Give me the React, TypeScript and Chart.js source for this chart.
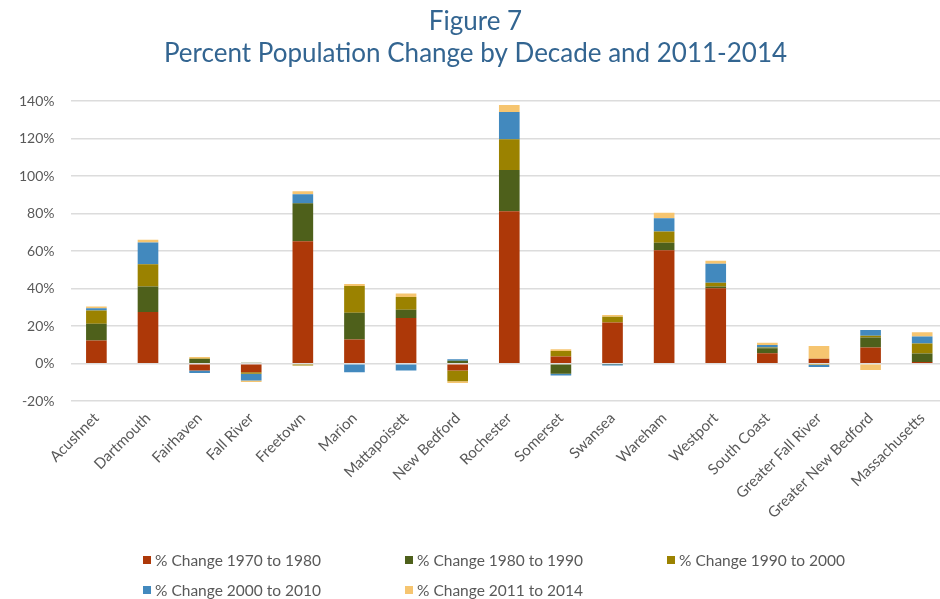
import React, { useEffect, useRef } from "react";
import { Chart, registerables } from "chart.js";

Chart.register(...registerables);

const categories = [
  "Acushnet", "Dartmouth", "Fairhaven", "Fall River", "Freetown", "Marion",
  "Mattapoisett", "New Bedford", "Rochester", "Somerset", "Swansea", "Wareham",
  "Westport", "South Coast", "Greater Fall River", "Greater New Bedford", "Massachusetts",
];

const change1970to1980 = [12.3, 27.5, -3.6, -4.5, 65.2, 12.9, 24.3, -3.6, 81.3, 3.8, 22.0, 60.5, 40.2, 5.5, 2.6, 8.6, 0.9];
const change1980to1990 = [9.0, 13.6, 2.5, 0.5, 20.3, 14.2, 4.5, 1.6, 21.9, -5.4, -0.3, 3.9, 0.9, 2.7, -0.4, 5.4, 4.5];
const change1990to2000 = [7.1, 11.9, 0.2, -0.8, -0.9, 14.3, 6.8, -5.7, 16.4, 3.0, 3.0, 6.1, 2.1, 0.4, -0.3, 0.9, 5.4];
const change2000to2010 = [1.2, 11.6, -1.4, -3.6, 4.8, -4.5, -3.6, 0.8, 14.6, -0.9, -0.7, 7.0, 10.0, 1.4, -1.1, 3.0, 3.7];
const change2011to2014 = [0.9, 1.5, 0.9, -0.9, 1.6, 1.1, 1.8, -1.0, 3.7, 0.9, 0.9, 2.9, 1.6, 1.1, 6.8, -3.4, 2.3];

const seriesLabels = [
  "% Change 1970 to 1980",
  "% Change 1980 to 1990",
  "% Change 1990 to 2000",
  "% Change 2000 to 2010",
  "% Change 2011 to 2014",
];
const seriesColors = ["#AD3808", "#4E601B", "#9B8200", "#4289BE", "#F6C570"];
const seriesValues = [change1970to1980, change1980to1990, change1990to2000, change2000to2010, change2011to2014];

const titleLines = ["Figure 7", "Percent Population Change by Decade and 2011-2014"];

const FONT = "Lato, 'Open Sans', sans-serif";

export default function App() {
  const canvasRef = useRef<HTMLCanvasElement | null>(null);

  useEffect(() => {
    const canvas = canvasRef.current;
    if (!canvas) return;
    const chart = new Chart(canvas, {
      type: "bar",
      data: {
        labels: categories,
        datasets: seriesValues.map((vals, i) => ({
          label: seriesLabels[i],
          data: vals,
          backgroundColor: seriesColors[i],
          borderWidth: 0,
          barPercentage: 0.4,
          categoryPercentage: 1,
        })),
      },
      options: {
        animation: false,
        responsive: true,
        maintainAspectRatio: false,
        layout: { padding: { left: 3, right: 12, top: 0, bottom: 69 } },
        plugins: {
          legend: { display: false },
          tooltip: { enabled: false },
          title: {
            display: true,
            text: titleLines,
            color: "#336591",
            font: { family: FONT, size: 26, weight: "normal", lineHeight: 1.25 },
            padding: { top: 5, bottom: 31 },
          },
        },
        scales: {
          x: {
            stacked: true,
            grid: { display: false, drawTicks: false },
            border: { display: false },
            ticks: {
              autoSkip: false,
              minRotation: 45,
              maxRotation: 45,
              padding: 8,
              color: "#595959",
              font: { family: FONT, size: 15 },
            },
          },
          y: {
            stacked: true,
            min: -20,
            max: 140,
            grid: { color: "#dcdcdc", lineWidth: 1.5, drawTicks: false },
            border: { display: false },
            ticks: {
              stepSize: 20,
              padding: 16,
              color: "#595959",
              font: { family: FONT, size: 14 },
              callback: (v: any) => v + "%",
            },
          },
        },
      },
    });
    return () => chart.destroy();
  }, []);

  const legendPos = [
    { x: 143, y: 560 },
    { x: 405, y: 560 },
    { x: 667, y: 560 },
    { x: 143, y: 590 },
    { x: 405, y: 590 },
  ];

  return (
    <div style={{ position: "fixed", left: 0, top: 0, width: 940, height: 599, overflow: "hidden", background: "#fff" }}>
      <div style={{ position: "absolute", left: 0, top: 0, width: 960, height: 599 }}>
        <canvas ref={canvasRef} />
      </div>
      {seriesLabels.map((lab, i) => (
        <div
          key={lab}
          style={{
            position: "absolute",
            left: legendPos[i].x,
            top: legendPos[i].y - 10,
            height: 20,
            display: "flex",
            alignItems: "center",
            fontFamily: FONT,
            fontSize: 15.5,
            color: "#595959",
            whiteSpace: "nowrap",
          }}
        >
          <span style={{ display: "inline-block", width: 8, height: 8, background: seriesColors[i], marginRight: 4 }} />
          {lab}
        </div>
      ))}
    </div>
  );
}
